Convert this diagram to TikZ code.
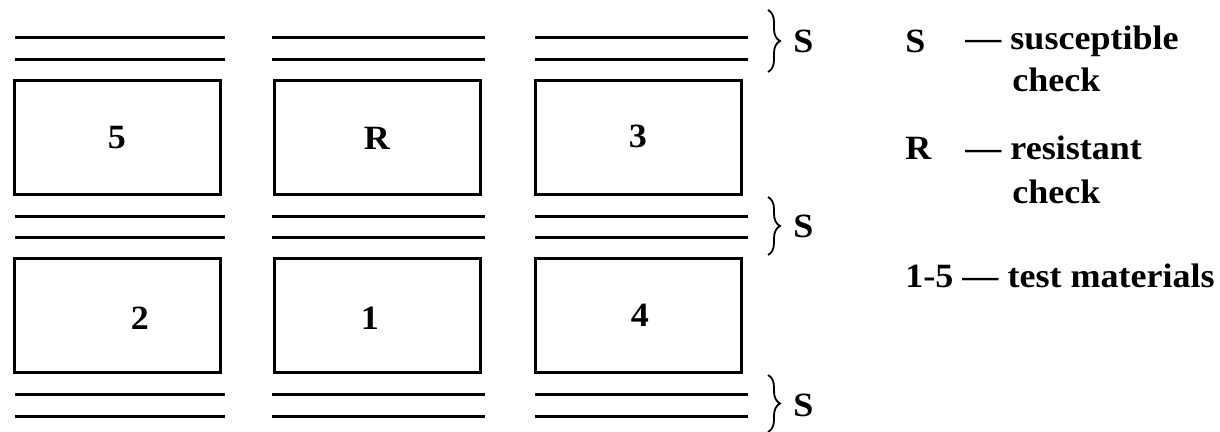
\documentclass[tikz,border=0pt]{standalone}
\usepackage{fontspec}
\setmainfont{Liberation Serif}[FakeStretch=1.06]
\usetikzlibrary{decorations.pathreplacing}
\begin{document}
\begin{tikzpicture}[x=0.5pt,y=-0.5pt,
rowline/.style={line width=1.5pt},
plotbox/.style={draw,line width=1.5pt,minimum width=103pt,minimum height=57pt,inner sep=0pt},
lab/.style={inner sep=0pt,font=\bfseries\fontsize{17}{19}\selectfont},
checkbrace/.style={decorate,decoration={brace,amplitude=6pt},line width=0.9pt}
]
\useasboundingbox (0,0) rectangle (1220,432);
% rows of susceptible check
\foreach \xl/\xr in {15/225,272/485,535/748}
  \foreach \y in {38,60,217,238,395,416}
    \draw[rowline] (\xl,\y) -- (\xr,\y);
% plots
\node[plotbox] (p5) at (117,138) {};
\node[plotbox] (pR) at (377,138) {};
\node[plotbox] (p3) at (638,138) {};
\node[plotbox] (p2) at (117,316) {};
\node[plotbox] (p1) at (377,316) {};
\node[plotbox] (p4) at (638,316) {};
\node[lab] (l5) at (117,138) {5};
\node[lab] (lR) at (377,138) {R};
\node[lab] (l3) at (638,136) {3};
\node[lab] (l2) at (140,318) {2};
\node[lab] (l1) at (370,318) {1};
\node[lab] (l4) at (640,315) {4};
% braces
\draw[checkbrace] (768,10) -- (768,72);
\draw[checkbrace] (768,197) -- (768,255);
\draw[checkbrace] (768,375) -- (768,432);
\node[lab,anchor=west] (s1) at (793,41) {S};
\node[lab,anchor=west] (s2) at (793,226) {S};
\node[lab,anchor=west] (s3) at (793,405) {S};
% legend
\node[lab,anchor=west] (kS) at (905,41) {S};
\node[lab,anchor=west] (tS) at (965,41) {--- susceptible};
\node[lab,anchor=west] (cS) at (1012,80) {check};
\node[lab,anchor=west] (kR) at (905,148) {R};
\node[lab,anchor=west] (tR) at (965,148) {--- resistant};
\node[lab,anchor=west] (cR) at (1012,192) {check};
\node[lab,anchor=west] (kT) at (905,276) {1-5 --- test materials};
\end{tikzpicture}
\end{document}
